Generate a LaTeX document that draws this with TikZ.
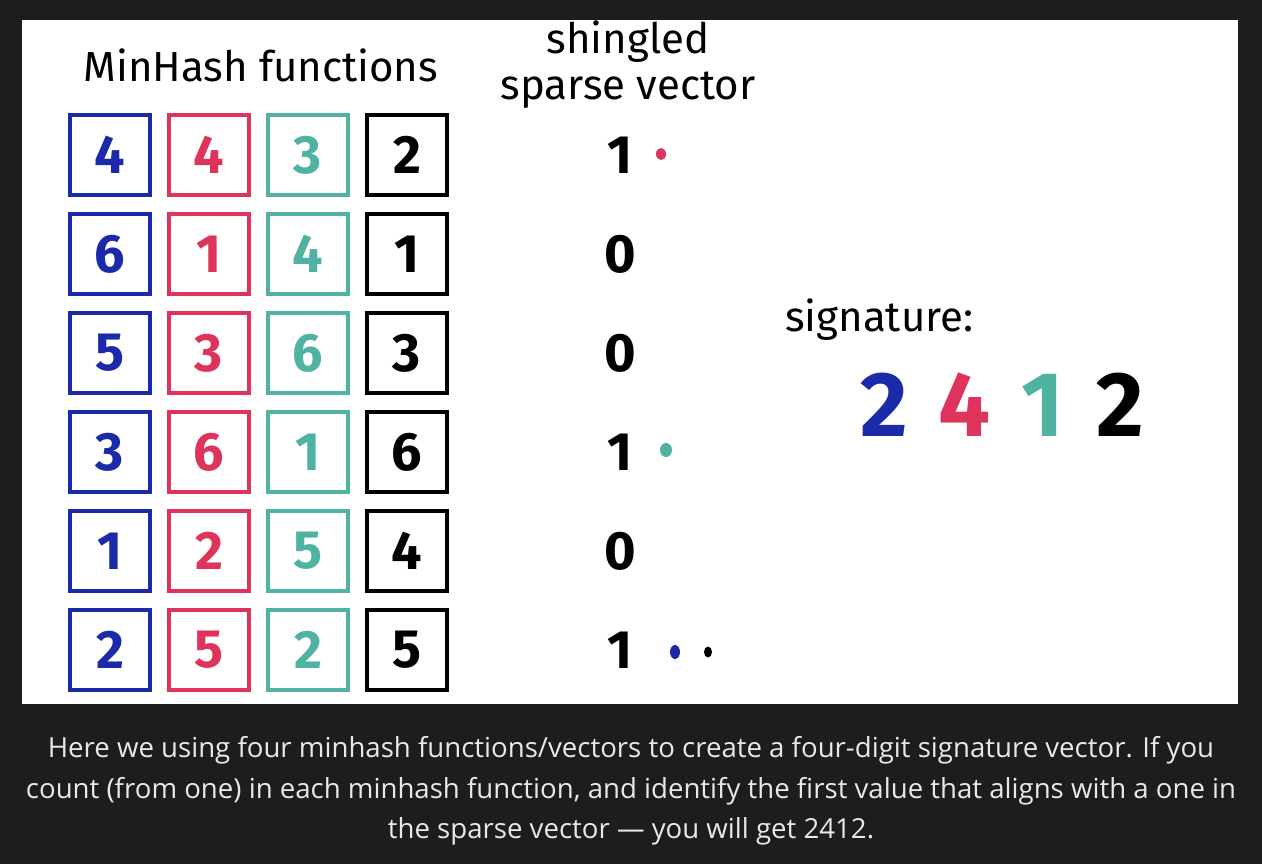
\documentclass[tikz,border=0pt]{standalone}
\usepackage{fontspec}
\setmainfont{Fira Sans}
\newfontfamily\captionfont{Open Sans}

\definecolor{pagebg}{RGB}{29,29,29}
\definecolor{hashblue}{RGB}{26,42,168}
\definecolor{hashred}{RGB}{222,52,92}
\definecolor{hashteal}{RGB}{80,178,162}
\definecolor{captiongray}{RGB}{232,232,232}

\tikzset{
  hashbox/.style={draw=#1, text=#1, line width=4.5pt, minimum size=80pt,
    inner sep=0pt, font=\fontsize{54}{54}\selectfont\bfseries},
  bitval/.style={inner sep=0pt, font=\fontsize{54}{54}\selectfont\bfseries},
  heading/.style={inner sep=0pt, font=\fontsize{42}{42}\selectfont},
  hitdot/.style={ellipse, inner sep=0pt, fill=#1},
}
\usetikzlibrary{shapes.geometric}

\begin{document}
\begin{tikzpicture}[x=1pt, y=-1pt]
  % page and white panel
  \fill[pagebg] (0,0) rectangle (1262,864);
  \fill[white] (22,20) rectangle (1238,704);

  % headings
  \node[heading] (fntitle) at (261,65) {MinHash functions};
  \node[heading] (vectitleA) at (628,42) {shingled};
  \node[heading] (vectitleB) at (628,90) {sparse vector};
  \node[heading, anchor=west] (sigtitle) at (785,320) {signature:};

  % minhash columns and the sparse vector, one row at a time
  \foreach \a/\b/\c/\d/\bit [count=\r] in
      {4/4/3/2/1, 6/1/4/1/0, 5/3/6/3/0, 3/6/1/6/1, 1/2/5/4/0, 2/5/2/5/1} {
    \node[hashbox=hashblue]  (blue\r)  at (110, 56+99*\r) {\a};
    \node[hashbox=hashred]   (red\r)   at (209, 56+99*\r) {\b};
    \node[hashbox=hashteal]  (teal\r)  at (308, 56+99*\r) {\c};
    \node[hashbox=black]     (black\r) at (407, 56+99*\r) {\d};
    \node[bitval]            (bit\r)   at (620, 56+99*\r) {\bit};
  }

  % marks where each function first hits a one
  \node[hitdot=hashred, minimum width=10pt, minimum height=12pt] (hitred) at (661,154) {};
  \node[hitdot=hashteal, minimum width=12pt, minimum height=14pt] (hitteal) at (666,450) {};
  \node[hitdot=hashblue, minimum width=10pt, minimum height=14pt] (hitblue) at (675,652) {};
  \node[hitdot=black, minimum width=8pt, minimum height=11pt] (hitblack) at (708,652) {};

  % resulting signature
  \foreach \digit/\clr/\x [count=\i] in
      {2/hashblue/884, 4/hashred/964, 1/hashteal/1043, 2/black/1120} {
    \node[inner sep=0pt, text=\clr, font=\fontsize{92}{92}\selectfont\bfseries] (sig\i) at (\x,405) {\digit};
  }

  % caption under the panel
  \node[text=captiongray, align=center, font=\captionfont\fontsize{27.6}{40.5}\selectfont]
    (caption) at (631,791)
    {Here we using four minhash functions/vectors to create a four-digit signature vector. If you\\
     count (from one) in each minhash function, and identify the first value that aligns with a one in\\
     the sparse vector — you will get 2412.};
\end{tikzpicture}
\end{document}
